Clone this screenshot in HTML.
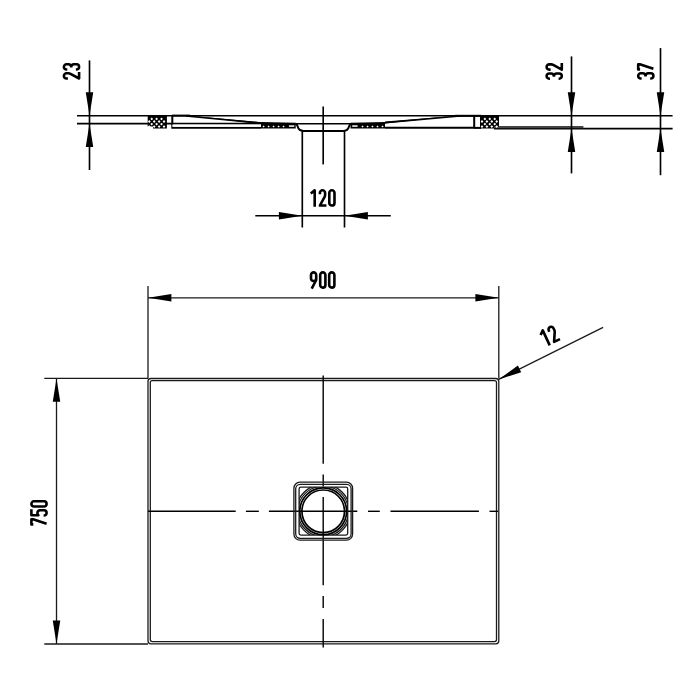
<!DOCTYPE html>
<html><head><meta charset="utf-8"><style>
html,body{margin:0;padding:0;background:#fff;}
svg{display:block;}
.k{stroke:#000;stroke-width:1.65;fill:none;}
.k2{stroke:#000;stroke-width:2;fill:none;}
.g{stroke:#1a1a1a;stroke-width:1.3;fill:none;}
.g2{stroke:#000;stroke-width:1.7;fill:none;}
.c{stroke:#000;stroke-width:1.4;fill:none;}
.ln{stroke:#000;stroke-width:1.4;}
.ar{fill:#000;}
.dg path{fill:none;stroke:#000;stroke-width:2.6;stroke-linecap:butt;stroke-linejoin:round;}
</style></head><body>
<svg width="700" height="700" viewBox="0 0 700 700">
<rect width="700" height="700" fill="#fff"/>
<line class="k" x1="77" y1="115.7" x2="672.6" y2="115.7"/>
<line class="k" x1="77" y1="123.6" x2="262" y2="123.6"/>
<line class="k" x1="494" y1="128.6" x2="672.6" y2="128.6"/>
<rect x="494" y="126.0" width="89.4" height="2.2" fill="#444"/>
<path d="M147.7,115 L166.9,115 L166.9,128.5 L153.0,128.5 L153.0,126.6 L147.7,126.6 Z" fill="#000"/>
<path d="M480,115 L499,115 L499,126.6 L494.0,126.6 L494.0,128.6 L480,128.6 Z" fill="#000"/>
<path d="M151.70,117.55 L153.10,118.95 L151.70,120.35 L150.30,118.95 Z" fill="#fff"/><path d="M156.60,117.55 L158.00,118.95 L156.60,120.35 L155.20,118.95 Z" fill="#fff"/><path d="M161.50,117.55 L162.90,118.95 L161.50,120.35 L160.10,118.95 Z" fill="#fff"/><path d="M149.30,120.10 L150.70,121.50 L149.30,122.90 L147.90,121.50 Z" fill="#fff"/><path d="M154.20,120.10 L155.60,121.50 L154.20,122.90 L152.80,121.50 Z" fill="#fff"/><path d="M159.10,120.10 L160.50,121.50 L159.10,122.90 L157.70,121.50 Z" fill="#fff"/><path d="M164.00,120.10 L165.40,121.50 L164.00,122.90 L162.60,121.50 Z" fill="#fff"/><path d="M151.70,122.65 L153.10,124.05 L151.70,125.45 L150.30,124.05 Z" fill="#fff"/><path d="M156.60,122.65 L158.00,124.05 L156.60,125.45 L155.20,124.05 Z" fill="#fff"/><path d="M161.50,122.65 L162.90,124.05 L161.50,125.45 L160.10,124.05 Z" fill="#fff"/><path d="M149.30,125.20 L150.70,126.60 L149.30,128.00 L147.90,126.60 Z" fill="#fff"/><path d="M154.20,125.20 L155.60,126.60 L154.20,128.00 L152.80,126.60 Z" fill="#fff"/><path d="M159.10,125.20 L160.50,126.60 L159.10,128.00 L157.70,126.60 Z" fill="#fff"/><path d="M164.00,125.20 L165.40,126.60 L164.00,128.00 L162.60,126.60 Z" fill="#fff"/>
<path d="M484.90,117.55 L486.30,118.95 L484.90,120.35 L483.50,118.95 Z" fill="#fff"/><path d="M489.80,117.55 L491.20,118.95 L489.80,120.35 L488.40,118.95 Z" fill="#fff"/><path d="M494.70,117.55 L496.10,118.95 L494.70,120.35 L493.30,118.95 Z" fill="#fff"/><path d="M482.00,120.10 L483.40,121.50 L482.00,122.90 L480.60,121.50 Z" fill="#fff"/><path d="M486.90,120.10 L488.30,121.50 L486.90,122.90 L485.50,121.50 Z" fill="#fff"/><path d="M491.80,120.10 L493.20,121.50 L491.80,122.90 L490.40,121.50 Z" fill="#fff"/><path d="M496.70,120.10 L498.10,121.50 L496.70,122.90 L495.30,121.50 Z" fill="#fff"/><path d="M484.90,122.65 L486.30,124.05 L484.90,125.45 L483.50,124.05 Z" fill="#fff"/><path d="M489.80,122.65 L491.20,124.05 L489.80,125.45 L488.40,124.05 Z" fill="#fff"/><path d="M494.70,122.65 L496.10,124.05 L494.70,125.45 L493.30,124.05 Z" fill="#fff"/><path d="M482.00,125.20 L483.40,126.60 L482.00,128.00 L480.60,126.60 Z" fill="#fff"/><path d="M486.90,125.20 L488.30,126.60 L486.90,128.00 L485.50,126.60 Z" fill="#fff"/><path d="M491.80,125.20 L493.20,126.60 L491.80,128.00 L490.40,126.60 Z" fill="#fff"/><path d="M496.70,125.20 L498.10,126.60 L496.70,128.00 L495.30,126.60 Z" fill="#fff"/>
<path class="k2" d="M172.3,115.5 L172.3,127.8 L261,127.8"/>
<path class="k2" d="M385,127.8 L474.2,127.8 L474.2,115.5"/>
<line class="k2" x1="474" y1="127.9" x2="481" y2="127.9"/>
<rect x="172" y="114.6" width="18" height="2.0" fill="#000"/>
<rect x="455" y="114.8" width="26" height="2.1" fill="#000"/>
<path d="M186,115.6 L262,122.2 L262,124.2 Z" fill="#000"/>
<path class="k" d="M186,116 L262,123.2"/>
<path d="M385,121.6 L460,115.6 L385,123.6 Z" fill="#000"/>
<path class="k" d="M385,122.8 L460,116"/>
<path d="M261,122.0 L295.7,122.8 L295.7,128.6 L261,128.6 Z" fill="#000"/>
<path d="M350.5,122.8 L385,122.0 L385,128.4 L350.5,128.4 Z" fill="#000"/>
<path d="M263.60,125.40 L264.70,126.50 L263.60,127.60 L262.50,126.50 Z" fill="#fff"/>
<path d="M362.50,125.40 L363.60,126.50 L362.50,127.60 L361.40,126.50 Z" fill="#fff"/>
<path d="M268.60,125.40 L269.70,126.50 L268.60,127.60 L267.50,126.50 Z" fill="#fff"/>
<path d="M367.50,125.40 L368.60,126.50 L367.50,127.60 L366.40,126.50 Z" fill="#fff"/>
<path d="M273.60,125.40 L274.70,126.50 L273.60,127.60 L272.50,126.50 Z" fill="#fff"/>
<path d="M372.50,125.40 L373.60,126.50 L372.50,127.60 L371.40,126.50 Z" fill="#fff"/>
<path d="M278.60,125.40 L279.70,126.50 L278.60,127.60 L277.50,126.50 Z" fill="#fff"/>
<path d="M377.50,125.40 L378.60,126.50 L377.50,127.60 L376.40,126.50 Z" fill="#fff"/>
<path d="M283.60,125.40 L284.70,126.50 L283.60,127.60 L282.50,126.50 Z" fill="#fff"/>
<path d="M382.50,125.40 L383.60,126.50 L382.50,127.60 L381.40,126.50 Z" fill="#fff"/>
<rect x="288.9" y="125.3" width="5.4" height="1.5" fill="#fff"/>
<rect x="352.2" y="125.3" width="5.4" height="1.5" fill="#fff"/>
<rect x="172.3" y="124.6" width="88.7" height="2.2" fill="#fff"/>
<path class="k2" d="M295.3,123.8 Q297.2,124.2 297.8,126.8 Q298.8,130.9 303.5,130.9 L343.2,130.9 Q347.9,130.9 348.9,126.8 Q349.5,124.2 351.4,123.8"/>
<line class="k" x1="295.5" y1="123.7" x2="351" y2="123.7"/>
<line class="k" x1="302.3" y1="131" x2="302.3" y2="227.5"/>
<line class="k" x1="344.5" y1="131" x2="344.5" y2="227.5"/>
<line class="k" x1="323.2" y1="106.5" x2="323.2" y2="164.4"/>
<line class="k" x1="255.3" y1="215.7" x2="390.8" y2="215.7"/>
<path class="ar" d="M302.30,215.70 L278.90,211.95 L278.90,219.45 Z"/>
<path class="ar" d="M344.50,215.70 L367.90,219.45 L367.90,211.95 Z"/>
<line class="k" x1="89.5" y1="60.4" x2="89.5" y2="170"/><path class="ar" d="M89.50,115.70 L93.25,92.30 L85.75,92.30 Z"/><path class="ar" d="M89.50,123.60 L85.75,147.00 L93.25,147.00 Z"/>
<line class="k" x1="571.5" y1="56.4" x2="571.5" y2="173.4"/><path class="ar" d="M571.50,115.70 L575.25,92.30 L567.75,92.30 Z"/><path class="ar" d="M571.50,128.60 L567.75,152.00 L575.25,152.00 Z"/>
<line class="k" x1="660.5" y1="48.1" x2="660.5" y2="175.2"/><path class="ar" d="M660.50,115.70 L664.25,92.30 L656.75,92.30 Z"/><path class="ar" d="M660.50,128.60 L656.75,152.00 L664.25,152.00 Z"/>
<g class="dg" transform="translate(62.6,79.8) rotate(-90)"><path transform="translate(1.30,1.30)" d="M0,4.0 L0,2.6 A2.6,2.6 0 0 1 5.2,2.6 L5.2,4.6 Q5.2,5.6 4.7,6.6 L0,15.2 L6.5,15.2"/><path transform="translate(10.30,1.30)" d="M0,3.4 L0,2.6 A2.6,2.6 0 0 1 5.2,2.6 L5.2,4.6 A2.6,2.6 0 0 1 2.6,7.3 L2.0,7.3 M2.6,7.3 A2.6,2.6 0 0 1 5.2,10.0 L5.2,12.6 A2.6,2.6 0 0 1 0,12.6 L0,12.0"/></g>
<g class="dg" transform="translate(545.3,80) rotate(-90)"><path transform="translate(1.30,1.30)" d="M0,3.4 L0,2.6 A2.6,2.6 0 0 1 5.2,2.6 L5.2,4.6 A2.6,2.6 0 0 1 2.6,7.3 L2.0,7.3 M2.6,7.3 A2.6,2.6 0 0 1 5.2,10.0 L5.2,12.6 A2.6,2.6 0 0 1 0,12.6 L0,12.0"/><path transform="translate(10.40,1.30)" d="M0,4.0 L0,2.6 A2.6,2.6 0 0 1 5.2,2.6 L5.2,4.6 Q5.2,5.6 4.7,6.6 L0,15.2 L6.5,15.2"/></g>
<g class="dg" transform="translate(636.9,79.8) rotate(-90)"><path transform="translate(1.30,1.30)" d="M0,3.4 L0,2.6 A2.6,2.6 0 0 1 5.2,2.6 L5.2,4.6 A2.6,2.6 0 0 1 2.6,7.3 L2.0,7.3 M2.6,7.3 A2.6,2.6 0 0 1 5.2,10.0 L5.2,12.6 A2.6,2.6 0 0 1 0,12.6 L0,12.0"/><path transform="translate(10.40,1.30)" d="M0,1.9 L0,0 L5.2,0 L5.2,1.6 L0.6,15.2"/></g>
<g class="dg" transform="translate(309.5,189)"><path transform="translate(1.30,1.30)" d="M0.0,3.3 L3.9000000000000004,0 L3.9000000000000004,16.5"/><path transform="translate(10.40,1.30)" d="M0,4.0 L0,2.6 A2.6,2.6 0 0 1 5.2,2.6 L5.2,4.6 Q5.2,5.6 4.7,6.6 L0,15.2 L6.5,15.2"/><path transform="translate(19.80,1.30)" d="M0,2.6 A2.6,2.6 0 0 1 5.2,2.6 L5.2,12.6 A2.6,2.6 0 0 1 0,12.6 Z"/></g>
<line class="g" x1="148" y1="297.8" x2="498.8" y2="297.8"/>
<path class="ar" d="M148.00,297.80 L171.40,301.55 L171.40,294.05 Z"/>
<path class="ar" d="M498.80,297.80 L475.40,294.05 L475.40,301.55 Z"/>
<line class="g" x1="148" y1="285.9" x2="148" y2="378.5"/>
<line class="g" x1="498.8" y1="285.9" x2="498.8" y2="378.5"/>
<g class="dg" transform="translate(309.7,271.1)"><path transform="translate(1.30,1.30)" d="M2.6,0 A2.6,2.6 0 0 1 5.2,2.6 L5.2,6.0 A2.6,2.6 0 0 1 0,6.0 L0,2.6 A2.6,2.6 0 0 1 2.6,0 Z M5.2,6.0 L5.2,7.6 L0.7,16.3"/><path transform="translate(10.50,1.30)" d="M0,2.6 A2.6,2.6 0 0 1 5.2,2.6 L5.2,12.6 A2.6,2.6 0 0 1 0,12.6 Z"/><path transform="translate(19.50,1.30)" d="M0,2.6 A2.6,2.6 0 0 1 5.2,2.6 L5.2,12.6 A2.6,2.6 0 0 1 0,12.6 Z"/></g>
<line class="g" x1="56.5" y1="378.4" x2="56.5" y2="644"/>
<path class="ar" d="M56.50,378.40 L52.75,401.80 L60.25,401.80 Z"/>
<path class="ar" d="M56.50,644.00 L60.25,620.60 L52.75,620.60 Z"/>
<line class="g" x1="44.3" y1="378.4" x2="148" y2="378.4"/>
<line class="g" x1="44.3" y1="644" x2="148" y2="644"/>
<g class="dg" transform="translate(30.1,525.7) rotate(-90)"><path transform="translate(1.30,1.30)" d="M0,1.9 L0,0 L5.2,0 L5.2,1.6 L0.6,15.2"/><path transform="translate(10.20,1.30)" d="M6.300000000000001,0 L0.2,0 L0.2,7.0 Q1.0,6.0 2.6,6.0 A2.6,2.6 0 0 1 5.2,8.7 L5.2,12.6 A2.6,2.6 0 0 1 0,12.6 L0,12.2"/><path transform="translate(19.20,1.30)" d="M0,2.6 A2.6,2.6 0 0 1 5.2,2.6 L5.2,12.6 A2.6,2.6 0 0 1 0,12.6 Z"/></g>
<rect class="g" x="148" y="378.5" width="350.8" height="265.3" rx="3" fill="none"/>
<rect class="g" x="150.3" y="380.6" width="346.2" height="261.0" rx="2" fill="none"/>
<line class="g" x1="603.1" y1="327.3" x2="498.6" y2="379.4"/>
<path class="ar" d="M498.60,379.40 L521.21,372.32 L517.87,365.60 Z"/>
<g class="dg" transform="translate(537.5,331.4) rotate(-25)"><path transform="translate(1.30,1.30)" d="M0.0,3.3 L3.9000000000000004,0 L3.9000000000000004,16.5"/><path transform="translate(10.60,1.30)" d="M0,4.0 L0,2.6 A2.6,2.6 0 0 1 5.2,2.6 L5.2,4.6 Q5.2,5.6 4.7,6.6 L0,15.2 L6.5,15.2"/></g>
<line class="c" x1="148" y1="511.3" x2="235.7" y2="511.3"/>
<line class="c" x1="245.9" y1="511.3" x2="258.8" y2="511.3"/>
<line class="c" x1="268.9" y1="511.3" x2="357.3" y2="511.3"/>
<line class="c" x1="368" y1="511.3" x2="379.8" y2="511.3"/>
<line class="c" x1="390.5" y1="511.3" x2="478.9" y2="511.3"/>
<line class="c" x1="489.5" y1="511.3" x2="498" y2="511.3"/>
<line class="c" x1="323.2" y1="375.4" x2="323.2" y2="463.8"/>
<line class="c" x1="323.2" y1="474.4" x2="323.2" y2="486.5"/>
<line class="c" x1="323.2" y1="497" x2="323.2" y2="585.3"/>
<line class="c" x1="323.2" y1="595.9" x2="323.2" y2="608"/>
<line class="c" x1="323.2" y1="619.1" x2="323.2" y2="647.4"/>
<rect class="g" x="293.9" y="482.2" width="58.7" height="57.9" rx="6" fill="none"/>
<rect class="g" x="295.7" y="484.3" width="55.4" height="54" rx="4.5" fill="none"/>
<rect class="g" x="299.1" y="487.1" width="48.6" height="48" rx="1.8" fill="none"/>
<clipPath id="dc"><rect x="299.1" y="487.1" width="48.6" height="48"/></clipPath>
<g clip-path="url(#dc)"><circle class="g" cx="323.2" cy="511.3" r="27.0" fill="none"/><circle class="g" cx="323.2" cy="511.3" r="25.3" fill="none"/></g>
<circle class="g2" cx="323.2" cy="511.3" r="23.4" fill="none"/>
<circle class="g2" cx="323.2" cy="511.3" r="21.3" fill="none"/>
</svg>
</body></html>
